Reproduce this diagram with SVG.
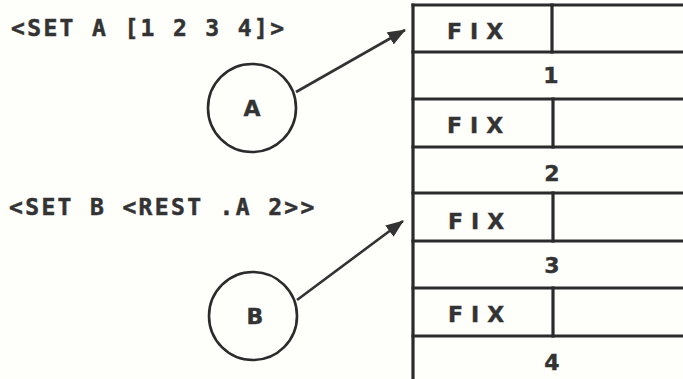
<svg xmlns="http://www.w3.org/2000/svg" width="683" height="379" viewBox="0 0 683 379">
<defs>
<style>
.ln{stroke:#2b2b2b;stroke-width:3.2;fill:none;stroke-linecap:square}
.code{font-family:"DejaVu Sans Mono","Liberation Mono",monospace;font-weight:bold;font-size:23px;letter-spacing:2.35px;fill:#333;stroke:#333;stroke-width:0.5}
.lbl{font-family:"DejaVu Sans","Liberation Sans",sans-serif;font-weight:bold;font-size:22px;fill:#333;stroke:#333;stroke-width:0.4}
.fix{letter-spacing:8px}
.circ{stroke:#2b2b2b;stroke-width:2.6;fill:none}
.arr{stroke:#333;stroke-width:2.6;fill:none}
</style>
<marker id="ah" markerUnits="userSpaceOnUse" markerWidth="18" markerHeight="14" refX="17" refY="7" orient="auto">
<path d="M0,0 L18,7 L0,14 Z" fill="#333"/>
</marker>
</defs>
<rect width="683" height="379" fill="#fefefb"/>
<g id="code-a"><text class="code" x="11" y="36">&lt;SET A [1 2 3 4]&gt;</text></g>
<g id="code-b"><text class="code" x="9" y="215">&lt;SET B &lt;REST .A 2&gt;&gt;</text></g>
<g id="node-A"><circle class="circ" cx="252" cy="108" r="44"/><text class="lbl" x="252" y="116" text-anchor="middle">A</text></g>
<g id="node-B"><circle class="circ" cx="253" cy="316" r="44"/><text class="lbl" x="255" y="324" text-anchor="middle">B</text></g>
<g id="vector">
<line class="ln" x1="413" y1="5" x2="413" y2="382"/>
<g id="cell-1"><line class="ln" x1="413" y1="5" x2="690" y2="5"/><line class="ln" x1="552" y1="5" x2="552" y2="52"/><text class="lbl fix" x="447" y="39">FIX</text></g>
<g id="cell-2"><line class="ln" x1="413" y1="52" x2="690" y2="52"/><text class="lbl" x="551" y="83" text-anchor="middle">1</text></g>
<g id="cell-3"><line class="ln" x1="413" y1="99" x2="690" y2="99"/><line class="ln" x1="553" y1="99" x2="553" y2="147"/><text class="lbl fix" x="447" y="133">FIX</text></g>
<g id="cell-4"><line class="ln" x1="413" y1="147" x2="690" y2="147"/><text class="lbl" x="552" y="181" text-anchor="middle">2</text></g>
<g id="cell-5"><line class="ln" x1="413" y1="193" x2="690" y2="193"/><line class="ln" x1="553" y1="193" x2="553" y2="241"/><text class="lbl fix" x="448" y="229">FIX</text></g>
<g id="cell-6"><line class="ln" x1="413" y1="241" x2="690" y2="241"/><text class="lbl" x="552" y="273" text-anchor="middle">3</text></g>
<g id="cell-7"><line class="ln" x1="413" y1="288" x2="690" y2="288"/><line class="ln" x1="553" y1="288" x2="553" y2="336"/><text class="lbl fix" x="448" y="322">FIX</text></g>
<g id="cell-8"><line class="ln" x1="413" y1="336" x2="690" y2="336"/><text class="lbl" x="552" y="370" text-anchor="middle">4</text></g>
</g>
<g id="connectors">
<line class="arr" x1="296" y1="92" x2="405" y2="30" marker-end="url(#ah)"/>
<line class="arr" x1="297" y1="300" x2="403" y2="221" marker-end="url(#ah)"/>
</g>
</svg>
